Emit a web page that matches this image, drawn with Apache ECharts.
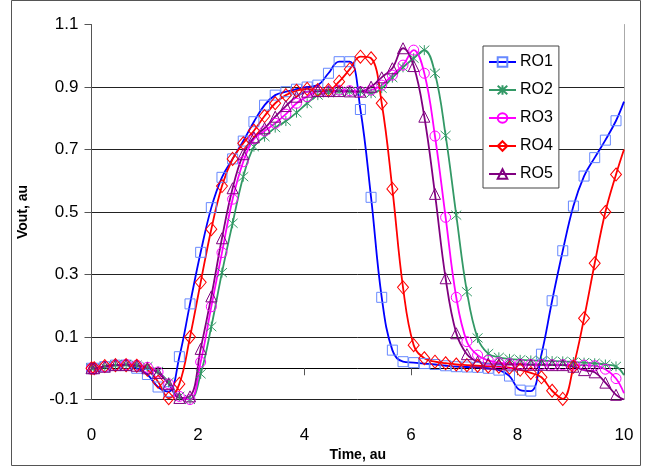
<!DOCTYPE html>
<html>
<head>
<meta charset="utf-8">
<script src="https://cdn.jsdelivr.net/npm/echarts@6/dist/echarts.min.js"></script>
<style>
html,body{margin:0;padding:0;background:#fff;}
#chart{width:650px;height:468px;}
</style>
</head>
<body>
<div id="chart"></div>
<script>
// sample times (markers every 0.2), plus the line ends at 0 and 10
var times = [0, 0.05, 0.25, 0.45, 0.65, 0.85, 1.05, 1.25, 1.45, 1.65, 1.85,
  2.05, 2.25, 2.45, 2.65, 2.85, 3.05, 3.25, 3.45, 3.65, 3.85,
  4.05, 4.25, 4.45, 4.65, 4.85, 5.05, 5.25, 5.45, 5.65, 5.85,
  6.05, 6.25, 6.45, 6.65, 6.85, 7.05, 7.25, 7.45, 7.65, 7.85,
  8.05, 8.25, 8.45, 8.65, 8.85, 9.05, 9.25, 9.45, 9.65, 9.85, 10];

var ro1 = [0.0,
  0.0, 0.005, 0.01, 0.01, 0.0, -0.02, -0.06, -0.075, 0.037, 0.206,
  0.371, 0.514, 0.611, 0.67, 0.727, 0.789, 0.842, 0.874, 0.885, 0.893,
  0.9, 0.906, 0.944, 0.981, 0.981, 0.828, 0.547, 0.227, 0.058, 0.021,
  0.018, 0.015, 0.012, 0.008, 0.005, 0.004, 0.003, 0.0, -0.006, -0.025,
  -0.07, -0.073, 0.045, 0.216, 0.376, 0.519, 0.615, 0.674, 0.73, 0.792,
  0.853];
var ro2 = [0.0,
  0.0, 0.005, 0.01, 0.012, 0.01, 0.005, -0.01, -0.045, -0.09, -0.1,
  -0.018, 0.133, 0.306, 0.464, 0.613, 0.709, 0.741, 0.77, 0.791, 0.818,
  0.848, 0.874, 0.882, 0.885, 0.885, 0.885, 0.88, 0.896, 0.93, 0.963,
  0.992, 1.018, 0.944, 0.745, 0.49, 0.245, 0.097, 0.047, 0.035, 0.03,
  0.027, 0.025, 0.024, 0.023, 0.022, 0.02, 0.018, 0.016, 0.012, 0.006,
  -0.022];
var ro3 = [0.0,
  0.0, 0.005, 0.01, 0.012, 0.01, 0.003, -0.012, -0.05, -0.09, -0.1,
  0.02, 0.197, 0.37, 0.541, 0.661, 0.734, 0.759, 0.784, 0.813, 0.848,
  0.869, 0.885, 0.885, 0.89, 0.888, 0.885, 0.89, 0.906, 0.938, 0.97,
  1.018, 0.944, 0.743, 0.483, 0.227, 0.085, 0.042, 0.025, 0.018, 0.015,
  0.013, 0.012, 0.012, 0.011, 0.011, 0.01, 0.01, 0.008, -0.003, -0.033,
  -0.08];
var ro4 = [0.0,
  0.0, 0.007, 0.01, 0.01, 0.008, -0.005, -0.043, -0.096, -0.05, 0.1,
  0.275, 0.445, 0.583, 0.67, 0.72, 0.76, 0.807, 0.848, 0.874, 0.888,
  0.894, 0.89, 0.89, 0.917, 0.957, 0.997, 0.992, 0.848, 0.574, 0.259,
  0.074, 0.032, 0.021, 0.016, 0.012, 0.01, 0.008, 0.006, 0.005, 0.002,
  -0.005, -0.015, -0.029, -0.072, -0.098, 0.005, 0.16, 0.336, 0.5, 0.62,
  0.7];
var ro5 = [0.0,
  0.0, 0.005, 0.01, 0.01, 0.008, 0.0, -0.015, -0.05, -0.095, -0.09,
  0.062, 0.23, 0.416, 0.576, 0.685, 0.739, 0.768, 0.805, 0.839, 0.869,
  0.885, 0.887, 0.887, 0.887, 0.886, 0.885, 0.901, 0.931, 0.96, 1.024,
  0.967, 0.805, 0.558, 0.288, 0.112, 0.045, 0.021, 0.015, 0.013, 0.012,
  0.012, 0.011, 0.011, 0.01, 0.01, 0.005, -0.006, -0.013, -0.046, -0.085,
  -0.1];

var xTicks = [0, 2, 4, 6, 8, 10];
var yMin = -0.1, yMax = 1.1, yStep = 0.2;

var FONT = 'Liberation Sans';
var starPath = 'path://M5,0L5,10M0.5,0.5L9.5,9.5M0.5,9.5L9.5,0.5';

function pts(vals){
  return times.map(function(t, i){
    if (i == times.length - 1) return {value: [t, vals[i]], symbol: 'none'};
    return [t, vals[i]];
  });
}

function mkSeries(name, vals, lineColor, markColor, symbol, size){
  return {
    name: name,
    type: 'line',
    smooth: 0.4,
    symbol: symbol,
    symbolSize: size,
    showAllSymbol: true,
    data: pts(vals),
    lineStyle: {color: lineColor, width: 1.8},
    itemStyle: {color: 'rgba(255,255,255,0)', borderColor: markColor, borderWidth: 1},
    emphasis: {disabled: true}
  };
}

var chart = echarts.init(document.getElementById('chart'));

var option = {
  animation: false,
  backgroundColor: '#fff',
  textStyle: {fontFamily: FONT},
  graphic: [{
    type: 'rect',
    shape: {x: 11.5, y: 0.5, width: 629, height: 465},
    style: {fill: 'none', stroke: '#555', lineWidth: 1},
    silent: true, z: -1
  }],
  grid: {left: 91.5, right: 26, top: 24.5, bottom: 68.5},
  legend: {
    orient: 'vertical',
    left: 483, top: 46,
    padding: [7, 6, 5, 5],
    itemGap: 10,
    itemWidth: 27,
    itemHeight: 12,
    backgroundColor: '#fff',
    borderColor: '#444',
    borderWidth: 1,
    textStyle: {fontFamily: FONT, fontSize: 16, color: '#000', lineHeight: 18, padding: [0, 0, 0, -1]},
    data: ['RO1', 'RO2', 'RO3', 'RO4', 'RO5']
  },
  xAxis: {
    type: 'value',
    min: 0, max: 10, interval: 2,
    name: 'Time, au',
    nameLocation: 'middle',
    nameGap: 47,
    nameTextStyle: {fontFamily: FONT, fontSize: 14, fontWeight: 'bold', color: '#000'},
    axisLine: {lineStyle: {color: '#000', width: 1}},
    axisTick: {length: 7, lineStyle: {color: '#555'}},
    axisLabel: {fontFamily: FONT, fontSize: 17, color: '#000', margin: 27,
      customValues: xTicks},
    splitLine: {show: false}
  },
  yAxis: [{
    type: 'value',
    min: yMin, max: yMax, interval: yStep,
    name: 'Vout, au',
    nameLocation: 'middle',
    nameGap: 61,
    nameTextStyle: {fontFamily: FONT, fontSize: 14, fontWeight: 'bold', color: '#000'},
    axisLine: {show: true, lineStyle: {color: '#555', width: 1}},
    axisTick: {show: true, length: 7, lineStyle: {color: '#555'}},
    axisLabel: {fontFamily: FONT, fontSize: 17, color: '#000', margin: 13,
      formatter: function(v){ return v.toFixed(1); }},
    splitLine: {lineStyle: {color: ['#222', '#222', '#222', '#222', '#222', '#222', 'rgba(0,0,0,0)'], width: 1}}
  }, {
    type: 'value',
    position: 'right',
    min: yMin, max: yMax, interval: yStep,
    axisLine: {show: true, lineStyle: {color: '#aaa', width: 1}},
    axisTick: {show: false},
    axisLabel: {show: false},
    splitLine: {show: false}
  }],
  series: [
    mkSeries('RO1', ro1, '#0000ff', '#6688ff', 'rect', 10),
    mkSeries('RO2', ro2, '#339966', '#339966', starPath, 10),
    mkSeries('RO3', ro3, '#ff00ff', '#ff00ff', 'circle', 10),
    mkSeries('RO4', ro4, '#ff0000', '#ff0000', 'diamond', [11, 13]),
    mkSeries('RO5', ro5, '#800080', '#800080', 'triangle', 11)
  ]
};

chart.setOption(option);
</script>
</body>
</html>
